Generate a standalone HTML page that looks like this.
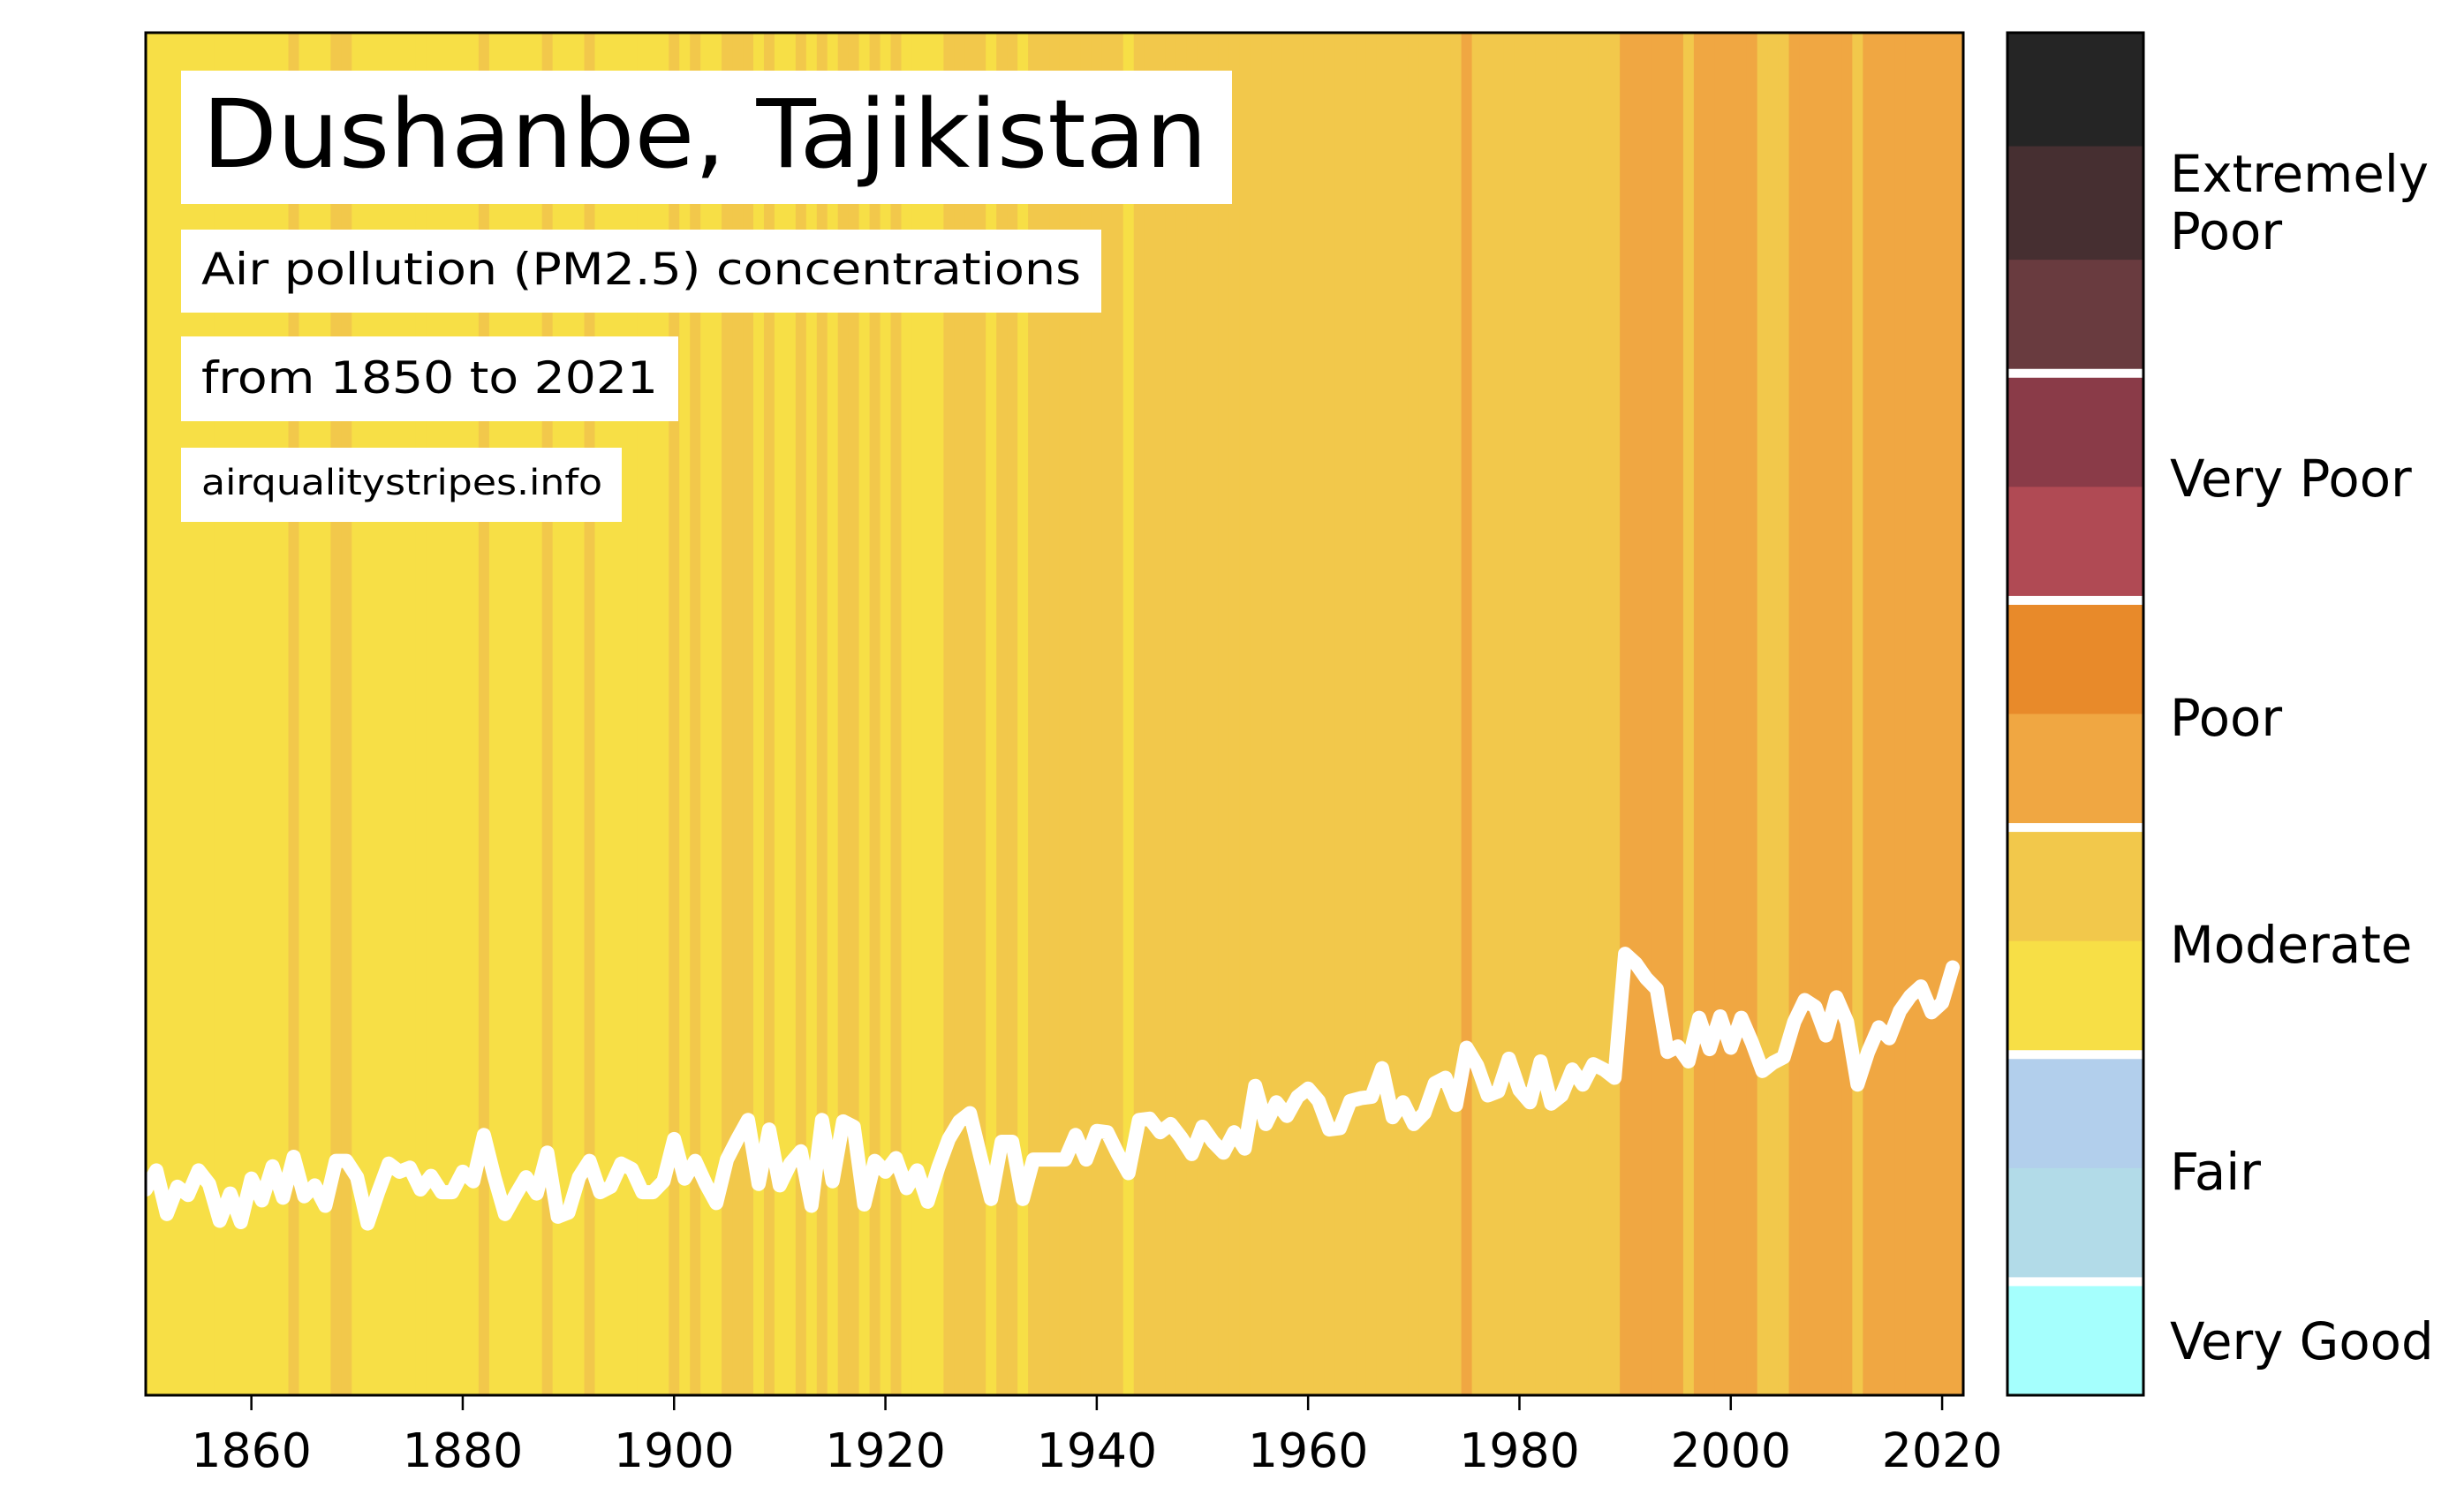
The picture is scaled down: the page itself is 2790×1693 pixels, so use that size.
<!DOCTYPE html>
<html><head><meta charset="utf-8"><title>Dushanbe air quality stripes</title>
<style>
html,body{margin:0;padding:0;background:#fff;}
svg{display:block;font-family:"DejaVu Sans","Liberation Sans",sans-serif;}
</style></head>
<body>
<svg id="chart" xmlns="http://www.w3.org/2000/svg" width="2790" height="1693" viewBox="0 0 2790 1693">
  <defs><clipPath id="plotclip"><rect x="165" y="37" width="2058" height="1543"/></clipPath></defs>
  <rect width="2790" height="1693" fill="#ffffff"/>
  <g id="stripes" clip-path="url(#plotclip)"></g>
  <path id="pm-line" fill="none" stroke="#ffffff" stroke-width="16" stroke-linejoin="round" stroke-linecap="round"/>
  <rect x="165" y="37" width="2058" height="1543" fill="none" stroke="#000" stroke-width="3"/>
  <g id="xticks"></g>

  <g>
    <rect x="205" y="80" width="1190" height="151" fill="#fff"/>
    <text x="229" y="189" font-size="107" textLength="1138" lengthAdjust="spacingAndGlyphs" fill="#000">Dushanbe, Tajikistan</text>
  </g>
  <g>
    <rect x="205" y="260" width="1042" height="94" fill="#fff"/>
    <text x="228" y="322" font-size="50" textLength="996" lengthAdjust="spacingAndGlyphs" fill="#000">Air pollution (PM2.5) concentrations</text>
  </g>
  <g>
    <rect x="205" y="381" width="563" height="96" fill="#fff"/>
    <text x="228" y="445" font-size="50" textLength="517" lengthAdjust="spacingAndGlyphs" fill="#000">from 1850 to 2021</text>
  </g>
  <g>
    <rect x="205" y="507" width="499" height="84" fill="#fff"/>
    <text x="228" y="560" font-size="40" textLength="454" lengthAdjust="spacingAndGlyphs" fill="#000">airqualitystripes.info</text>
  </g>

  <g id="colorbar"></g>
  <g font-size="57.7" fill="#000">
    <text x="2457" y="217">Extremely</text>
    <text x="2457" y="282">Poor</text>
    <text x="2457" y="562">Very Poor</text>
    <text x="2457" y="833">Poor</text>
    <text x="2457" y="1090">Moderate</text>
    <text x="2457" y="1347">Fair</text>
    <text x="2457" y="1539">Very Good</text>
  </g>
</svg>
<script>
const startYear = 1850;
const pmValues = [
15.1,16.5,13.3,15.3,14.7,16.5,15.5,12.8,14.8,12.7,
15.9,14.3,16.8,14.5,17.5,14.6,15.4,13.9,17.2,17.2,
16.0,12.6,14.9,17.0,16.4,16.7,15.1,16.1,14.9,14.9,
16.4,15.7,19.1,16.0,13.3,14.7,16.0,14.8,17.8,13.1,
13.4,16.0,17.2,14.9,15.3,17.0,16.6,14.9,14.9,15.7,
18.8,15.9,17.2,15.5,14.1,17.3,18.8,20.2,15.5,19.5,
15.4,17.0,17.9,13.9,20.2,15.7,20.1,19.7,14.0,17.2,
16.4,17.4,15.2,16.5,14.2,16.7,18.8,20.1,20.7,17.5,
14.4,18.6,18.6,14.4,17.3,17.3,17.3,17.3,19.1,17.3,
19.4,19.3,17.7,16.3,20.2,20.3,19.3,19.9,18.9,17.7,
19.7,18.6,17.8,19.3,18.1,22.7,19.9,21.5,20.5,21.9,
22.5,21.6,19.5,19.6,21.6,21.8,21.9,24.0,20.4,21.5,
19.9,20.7,22.9,23.3,21.3,25.5,24.2,22.0,22.3,24.7,
22.4,21.5,24.5,21.4,22.0,23.9,22.8,24.3,23.9,23.3,
32.4,31.7,30.6,29.8,25.2,25.6,24.5,27.7,25.4,27.8,
25.5,27.7,25.9,23.8,24.4,24.8,27.4,29.0,28.5,26.4,
29.2,27.4,22.8,25.2,27.0,26.2,28.2,29.3,30.0,28.1,
28.8,31.4
];
const tickYears = [1860,1880,1900,1920,1940,1960,1980,2000,2020];
const tickLabels = ["1860","1880","1900","1920","1940","1960","1980","2000","2020"];
const levelThresholds = [17.15, 25];
const levelColors = ["#f7df46","#f2c84b","#f0a742"];
const legendColors = ["#252525","#462f31","#693b3f","#8a3b48","#b04a54","#e88a2a","#f0a742","#f2c84b","#f7df46","#b2cfec","#b2dbe8","#a5fffd"];
const legendBreaks = [3,5,7,9,11];

const NS = "http://www.w3.org/2000/svg";
const L = 165, R = 2223, T = 37, B = 1580;
const xMinYear = 1850, xMaxYear = 2022;
const yMax = 100;
const nYears = pmValues.length;
const bw = (R - L) / (xMaxYear - xMinYear);
function xYear(y){ return L + (y - xMinYear) * bw; }
function yScale(v){ return B - v / yMax * (B - T); }
function colorFor(v){ let k = 0; while (k < levelThresholds.length && v >= levelThresholds[k]) k++; return levelColors[k]; }

const sg = document.getElementById('stripes');
pmValues.forEach((v, i) => {
  const r = document.createElementNS(NS, 'rect');
  const x0 = i === 0 ? L : xYear(startYear + i) - bw / 2;
  const x1 = i === nYears - 1 ? R : xYear(startYear + i) + bw / 2;
  r.setAttribute('x', x0);
  r.setAttribute('y', T);
  r.setAttribute('width', x1 - x0 + 0.6);
  r.setAttribute('height', B - T);
  r.setAttribute('fill', colorFor(v));
  
  
  sg.appendChild(r);
});

let d = '';
pmValues.forEach((v, i) => { d += (i ? 'L' : 'M') + xYear(startYear + i).toFixed(1) + ',' + yScale(v).toFixed(1); });
document.getElementById('pm-line').setAttribute('d', d);

const xg = document.getElementById('xticks');
tickYears.forEach((yr, i) => {
  const x = xYear(yr);
  const ln = document.createElementNS(NS, 'line');
  ln.setAttribute('x1', x); ln.setAttribute('x2', x);
  ln.setAttribute('y1', B + 1); ln.setAttribute('y2', B + 17);
  ln.setAttribute('stroke', '#000'); ln.setAttribute('stroke-width', '2.5');
  
  
  xg.appendChild(ln);
  const t = document.createElementNS(NS, 'text');
  t.setAttribute('x', x); t.setAttribute('y', 1661);
  t.setAttribute('text-anchor', 'middle'); t.setAttribute('font-size', '53.7');
  t.textContent = tickLabels[i];
  
  
  xg.appendChild(t);
});

const cg = document.getElementById('colorbar');
const CL = 2273, CR = 2427;
const segH = (B - T) / legendColors.length;
legendColors.forEach((c, i) => {
  const r = document.createElementNS(NS, 'rect');
  r.setAttribute('x', CL); r.setAttribute('y', T + i * segH);
  r.setAttribute('width', CR - CL); r.setAttribute('height', segH + 0.5);
  r.setAttribute('fill', c);
  
  
  cg.appendChild(r);
});
legendBreaks.forEach(k => {
  const r = document.createElementNS(NS, 'rect');
  r.setAttribute('x', CL); r.setAttribute('y', T + k * segH - 5);
  r.setAttribute('width', CR - CL); r.setAttribute('height', 10);
  r.setAttribute('fill', '#fff');
  
  
  cg.appendChild(r);
});
const fr = document.createElementNS(NS, 'rect');
fr.setAttribute('x', CL); fr.setAttribute('y', T);
fr.setAttribute('width', CR - CL); fr.setAttribute('height', B - T);
fr.setAttribute('fill', 'none'); fr.setAttribute('stroke', '#000'); fr.setAttribute('stroke-width', '3');


cg.appendChild(fr);
</script>
</body></html>
